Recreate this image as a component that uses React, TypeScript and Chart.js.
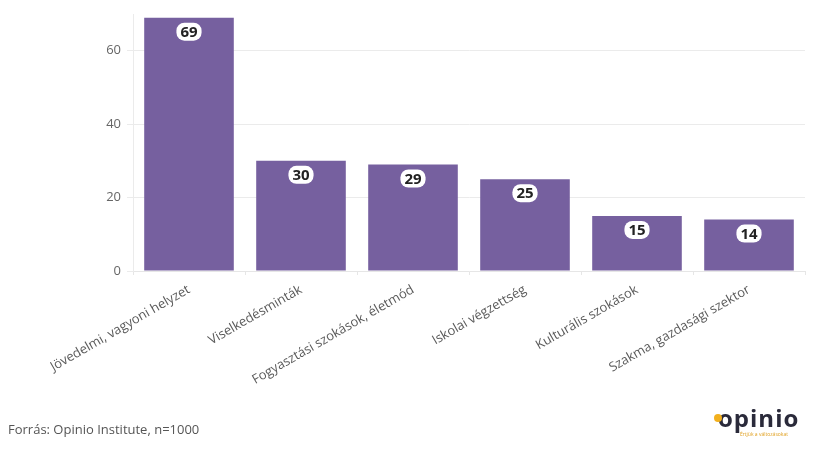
import React, { useEffect, useRef } from "react";
import { Chart, registerables } from "chart.js";
Chart.register(...registerables);

const categories = [
  "Jövedelmi, vagyoni helyzet",
  "Viselkedésminták",
  "Fogyasztási szokások, életmód",
  "Iskolai végzettség",
  "Kulturális szokások",
  "Szakma, gazdasági szektor",
];
const values = [69, 30, 29, 25, 15, 14];
const yTicks = [0, 20, 40, 60];
const footnote = "Forrás: Opinio Institute, n=1000";

const FONT = "'Open Sans', 'Noto Sans', sans-serif";

const labelPlugin = {
  id: "pillLabels",
  afterDatasetsDraw(chart: any) {
    const ctx = chart.ctx;
    const meta = chart.getDatasetMeta(0);
    ctx.save();
    ctx.font = `bold 15px ${FONT}`;
    ctx.textAlign = "center";
    ctx.textBaseline = "middle";
    meta.data.forEach((bar: any, i: number) => {
      const txt = String(values[i]);
      const w = ctx.measureText(txt).width + 8;
      const h = 18;
      const cx = bar.x;
      const cy = bar.y + 14;
      ctx.fillStyle = "#ffffff";
      ctx.beginPath();
      (ctx as any).roundRect(cx - w / 2, cy - h / 2, w, h, 8);
      ctx.fill();
      ctx.fillStyle = "#222222";
      ctx.fillText(txt, cx, cy + 1);
    });
    ctx.restore();
  },
};

export default function App() {
  const ref = useRef<HTMLCanvasElement>(null);
  useEffect(() => {
    const chart = new Chart(ref.current!, {
      type: "bar",
      data: {
        labels: categories,
        datasets: [
          {
            data: values,
            backgroundColor: "#76609f",
            categoryPercentage: 0.8,
            barPercentage: 1,
          },
        ],
      },
      options: {
        animation: false,
        responsive: false,
        layout: { padding: { top: 14, right: 20, left: 0, bottom: 0 } },
        plugins: { legend: { display: false }, tooltip: { enabled: false } },
        scales: {
          x: {
            grid: { display: true, drawOnChartArea: false, color: "#e6e6e6", tickLength: 4 },
            border: { color: "#e6e6e6" },
            ticks: {
              minRotation: 30,
              maxRotation: 30,
              color: "#5a5a5a",
              font: { family: FONT, size: 13 },
              padding: 7,
            },
            afterFit(scale: any) {
              scale.height = 179;
            },
          },
          y: {
            min: 0,
            max: 70,
            grid: { color: "#ebebeb", drawTicks: true, tickLength: 6 },
            border: { display: true, color: "#ebebeb" },
            ticks: {
              color: "#666666",
              font: { family: FONT, size: 13 },
              padding: 6,
            },
            afterBuildTicks(scale: any) {
              scale.ticks = yTicks.map((v) => ({ value: v }));
            },
            afterFit(scale: any) {
              scale.width = 133;
            },
          },
        },
      },
      plugins: [labelPlugin],
    });
    return () => chart.destroy();
  }, []);
  return (
    <div style={{ position: "fixed", left: 0, top: 0, width: 825, height: 450, background: "#fff" }}>
      <canvas ref={ref} width={825} height={450} style={{ position: "absolute", left: 0, top: 0 }} />
      <div
        style={{
          position: "absolute",
          left: 8,
          top: 420,
          fontFamily: FONT,
          fontSize: 13,
          color: "#555",
        }}
      >
        {footnote}
      </div>
      <div style={{ position: "absolute", left: 714, top: 406, width: 100, fontFamily: FONT }}>
        <div style={{ display: "flex", alignItems: "center", fontWeight: 700, fontSize: 24, color: "#2a2a3a", lineHeight: "24px", letterSpacing: 1 }}>
          <span style={{ display: "inline-block", width: 8, height: 8, borderRadius: 4, background: "#f2b01e", marginRight: -4, position: "relative", zIndex: 1 }} />
          <span>opinio</span>
        </div>
        <div style={{ fontSize: 5, color: "#e0a020", marginLeft: 26, marginTop: 1 }}>Értjük a változásokat</div>
      </div>
    </div>
  );
}
